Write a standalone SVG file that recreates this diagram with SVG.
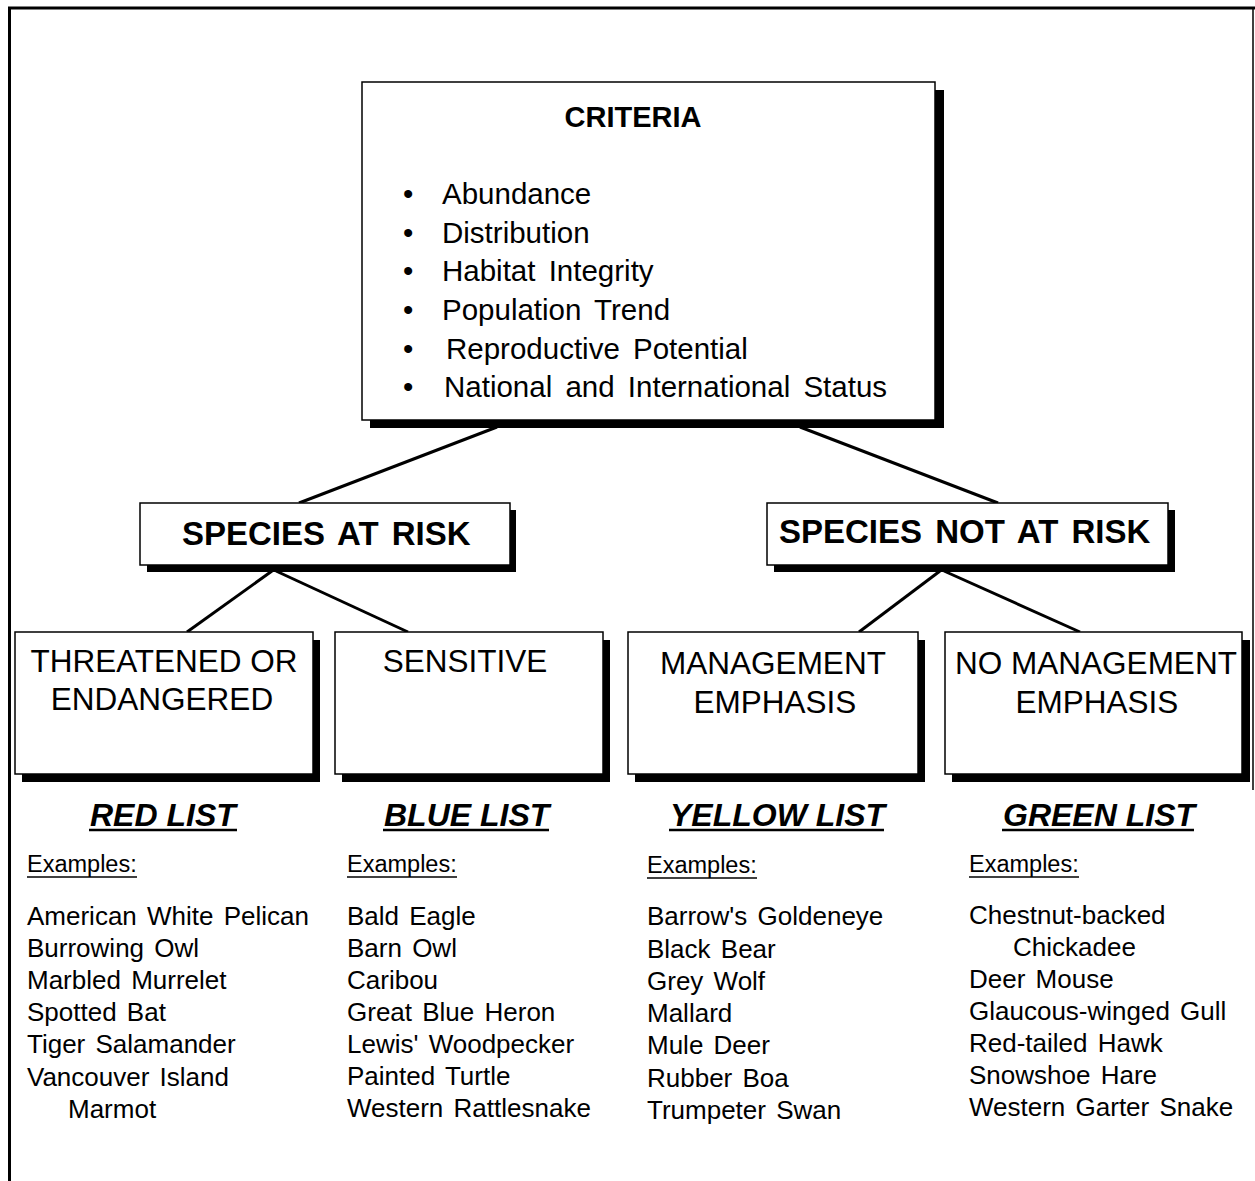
<svg xmlns="http://www.w3.org/2000/svg" width="1255" height="1181" viewBox="0 0 1255 1181">
<style>
text{font-family:"Liberation Sans",Arial,sans-serif;fill:#000}
.box{fill:#fff;stroke:#000;stroke-width:1.5}
.shd{fill:#000}
.crit{font-size:29.5px;word-spacing:5px}
.hdr{font-size:33px;font-weight:bold;word-spacing:4px}
.cat{font-size:31.5px}
.lst{font-size:32px;font-weight:bold;font-style:italic}
.ex{font-size:23.5px}
.item{font-size:26px;word-spacing:3px}
.ul{stroke:#000;stroke-width:2.5}
.ul2{stroke:#000;stroke-width:1.5}
.con line{stroke:#000;stroke-width:3}
</style>
<rect width="1255" height="1181" fill="#fff"/>
<g id="frame">
<line x1="8" y1="8" x2="1255" y2="8" stroke="#000" stroke-width="3"/>
<line x1="9.5" y1="7" x2="9.5" y2="1181" stroke="#000" stroke-width="3"/>
<line x1="1253" y1="8" x2="1253" y2="790" stroke="#000" stroke-width="1.5"/>
</g>
<g id="connectors" class="con">
<line x1="497" y1="427" x2="299" y2="503"/>
<line x1="800" y1="427" x2="998" y2="503"/>
<line x1="272" y1="571" x2="187" y2="632"/>
<line x1="276" y1="571" x2="408" y2="632"/>
<line x1="940" y1="571" x2="859" y2="632"/>
<line x1="944" y1="571" x2="1080" y2="632"/>
</g>
<g id="criteria">
<rect class="shd" x="370" y="90" width="574" height="338"/>
<rect class="box" x="362" y="82" width="573" height="338"/>
<text x="633" y="127" text-anchor="middle" font-size="29" font-weight="bold">CRITERIA</text>
<text class="crit" x="403" y="204">•</text><text class="crit" x="442" y="204">Abundance</text>
<text class="crit" x="403" y="243">•</text><text class="crit" x="442" y="243">Distribution</text>
<text class="crit" x="403" y="281">•</text><text class="crit" x="442" y="281">Habitat Integrity</text>
<text class="crit" x="403" y="320">•</text><text class="crit" x="442" y="320">Population Trend</text>
<text class="crit" x="403" y="359">•</text><text class="crit" x="446" y="359">Reproductive Potential</text>
<text class="crit" x="403" y="397">•</text><text class="crit" x="444" y="397">National and International Status</text>
</g>
<g id="species-at-risk">
<rect class="shd" x="147" y="510" width="369" height="62"/>
<rect class="box" x="140" y="503" width="370" height="62"/>
<text class="hdr" x="182" y="545">SPECIES AT RISK</text>
</g>
<g id="species-not-at-risk">
<rect class="shd" x="774" y="510" width="401" height="62"/>
<rect class="box" x="767" y="503" width="401" height="62"/>
<text class="hdr" x="779" y="543">SPECIES NOT AT RISK</text>
</g>
<g id="threatened">
<rect class="shd" x="22" y="640" width="298" height="142"/>
<rect class="box" x="15" y="632" width="298" height="142"/>
<text class="cat" x="164" y="672" text-anchor="middle">THREATENED OR</text>
<text class="cat" x="162" y="710" text-anchor="middle">ENDANGERED</text>
</g>
<g id="sensitive">
<rect class="shd" x="342" y="640" width="268" height="142"/>
<rect class="box" x="335" y="632" width="268" height="142"/>
<text class="cat" x="465" y="672" text-anchor="middle">SENSITIVE</text>
</g>
<g id="management">
<rect class="shd" x="635" y="640" width="290" height="142"/>
<rect class="box" x="628" y="632" width="290" height="142"/>
<text class="cat" x="773" y="674" text-anchor="middle">MANAGEMENT</text>
<text class="cat" x="775" y="713" text-anchor="middle">EMPHASIS</text>
</g>
<g id="no-management">
<rect class="shd" x="952" y="640" width="298" height="142"/>
<rect class="box" x="945" y="632" width="297" height="142"/>
<text class="cat" x="1096" y="674" text-anchor="middle">NO MANAGEMENT</text>
<text class="cat" x="1097" y="713" text-anchor="middle">EMPHASIS</text>
</g>
<g id="red-list">
<text class="lst" x="90" y="826">RED LIST</text>
<line class="ul" x1="89" y1="830" x2="237" y2="830"/>
<text class="ex" x="27" y="872">Examples:</text>
<line class="ul2" x1="27" y1="877" x2="137" y2="877"/>
<text class="item" x="27" y="925">American White Pelican</text>
<text class="item" x="27" y="957">Burrowing Owl</text>
<text class="item" x="27" y="989">Marbled Murrelet</text>
<text class="item" x="27" y="1021">Spotted Bat</text>
<text class="item" x="27" y="1053">Tiger Salamander</text>
<text class="item" x="27" y="1086">Vancouver Island</text>
<text class="item" x="68" y="1118">Marmot</text>
</g>
<g id="blue-list">
<text class="lst" x="384" y="826">BLUE LIST</text>
<line class="ul" x1="383" y1="830" x2="549" y2="830"/>
<text class="ex" x="347" y="872">Examples:</text>
<line class="ul2" x1="347" y1="877" x2="457" y2="877"/>
<text class="item" x="347" y="925">Bald Eagle</text>
<text class="item" x="347" y="957">Barn Owl</text>
<text class="item" x="347" y="989">Caribou</text>
<text class="item" x="347" y="1021">Great Blue Heron</text>
<text class="item" x="347" y="1053">Lewis' Woodpecker</text>
<text class="item" x="347" y="1085">Painted Turtle</text>
<text class="item" x="347" y="1117">Western Rattlesnake</text>
</g>
<g id="yellow-list">
<text class="lst" x="670" y="826">YELLOW LIST</text>
<line class="ul" x1="669" y1="830" x2="884" y2="830"/>
<text class="ex" x="647" y="873">Examples:</text>
<line class="ul2" x1="647" y1="878" x2="757" y2="878"/>
<text class="item" x="647" y="925">Barrow's Goldeneye</text>
<text class="item" x="647" y="958">Black Bear</text>
<text class="item" x="647" y="990">Grey Wolf</text>
<text class="item" x="647" y="1022">Mallard</text>
<text class="item" x="647" y="1054">Mule Deer</text>
<text class="item" x="647" y="1087">Rubber Boa</text>
<text class="item" x="647" y="1119">Trumpeter Swan</text>
</g>
<g id="green-list">
<text class="lst" x="1003" y="826">GREEN LIST</text>
<line class="ul" x1="1002" y1="830" x2="1194" y2="830"/>
<text class="ex" x="969" y="872">Examples:</text>
<line class="ul2" x1="969" y1="877" x2="1079" y2="877"/>
<text class="item" x="969" y="924">Chestnut-backed</text>
<text class="item" x="1013" y="956">Chickadee</text>
<text class="item" x="969" y="988">Deer Mouse</text>
<text class="item" x="969" y="1020">Glaucous-winged Gull</text>
<text class="item" x="969" y="1052">Red-tailed Hawk</text>
<text class="item" x="969" y="1084">Snowshoe Hare</text>
<text class="item" x="969" y="1116">Western Garter Snake</text>
</g>
</svg>
